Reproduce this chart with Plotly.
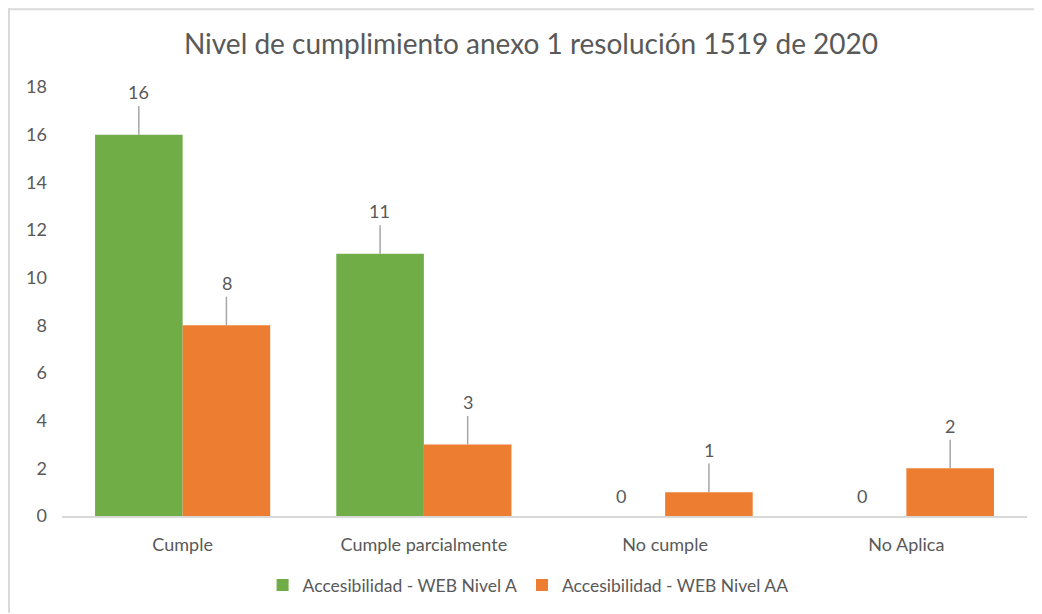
import plotly.graph_objects as go

categories = ["Cumple", "Cumple parcialmente", "No cumple", "No Aplica"]
series_names = ["Accesibilidad - WEB Nivel A", "Accesibilidad - WEB Nivel AA"]
nivel_a = [16, 11, 0, 0]
nivel_aa = [8, 3, 1, 2]
y_ticks = [0, 2, 4, 6, 8, 10, 12, 14, 16, 18]

GREEN = "#70AD47"
ORANGE = "#ED7D31"
TEXT = "#595959"
LEADER = "#A6A6A6"
FONT = "Lato"
LEAD = 1.2
FS = 18

fig = go.Figure()
for name, vals, col in [(series_names[0], nivel_a, GREEN), (series_names[1], nivel_aa, ORANGE)]:
    fig.add_trace(go.Bar(
        x=categories, y=vals, name=name, marker=dict(color=col, line=dict(width=0)),
        error_y=dict(type="data", symmetric=False,
                     array=[LEAD if v > 0 else 0 for v in vals],
                     arrayminus=[0] * len(vals),
                     color=LEADER, thickness=1.5, width=0),
        hoverinfo="x+y",
    ))

annotations = []
for vals, shift in [(nivel_a, -44), (nivel_aa, 44)]:
    for c, v in zip(categories, vals):
        if v > 0:
            annotations.append(dict(x=c, y=v + LEAD, text=str(v), showarrow=False,
                                    xshift=shift, yanchor="bottom", yshift=1,
                                    font=dict(family=FONT, size=FS, color=TEXT)))
        else:
            annotations.append(dict(x=c, y=v, text=str(v), showarrow=False,
                                    xshift=shift, yanchor="middle", yshift=20,
                                    font=dict(family=FONT, size=FS, color=TEXT)))

W, H = 1034, 606
L, R, T, B = 54, 15, 79, 97
PW, PH = W - L - R, H - T - B

fig.update_layout(
    width=W, height=H,
    margin=dict(l=L, r=R, t=T, b=B),
    paper_bgcolor="white", plot_bgcolor="white",
    font=dict(family=FONT, size=FS, color=TEXT),
    title=dict(text="Nivel de cumplimiento anexo 1 resolución 1519 de 2020",
               x=523 / W, xanchor="center", y=1 - 36 / H, yanchor="middle",
               font=dict(family=FONT, size=28, color=TEXT)),
    barmode="group", bargap=0.274, bargroupgap=0,
    xaxis=dict(showline=True, linecolor="#D9D9D9", linewidth=1.5, ticks="",
               showgrid=False, tickfont=dict(size=FS, color=TEXT), ticklabelstandoff=12),
    yaxis=dict(range=[0, 18], tickvals=y_ticks, showgrid=False, zeroline=False,
               showline=False, ticks="", tickfont=dict(size=FS, color=TEXT),
               ticklabelstandoff=14),
    legend=dict(orientation="h", x=0.483, xanchor="center", y=-68 / PH, yanchor="middle",
                font=dict(size=17.5, color=TEXT), itemwidth=30, traceorder="normal"),
    annotations=annotations,
    showlegend=True,
)

# chart border (top and left edges visible in the reference)
bx = -L / PW
by = 1 + T / PH
fig.add_shape(type="line", xref="paper", yref="paper", x0=bx, x1=1 + R / PW,
              y0=by - 1 / PH, y1=by - 1 / PH, line=dict(color="#D9D9D9", width=2))
fig.add_shape(type="line", xref="paper", yref="paper", x0=bx + 1 / PW, x1=bx + 1 / PW,
              y0=by, y1=-B / PH, line=dict(color="#D9D9D9", width=2))

fig.write_html("out.html")
